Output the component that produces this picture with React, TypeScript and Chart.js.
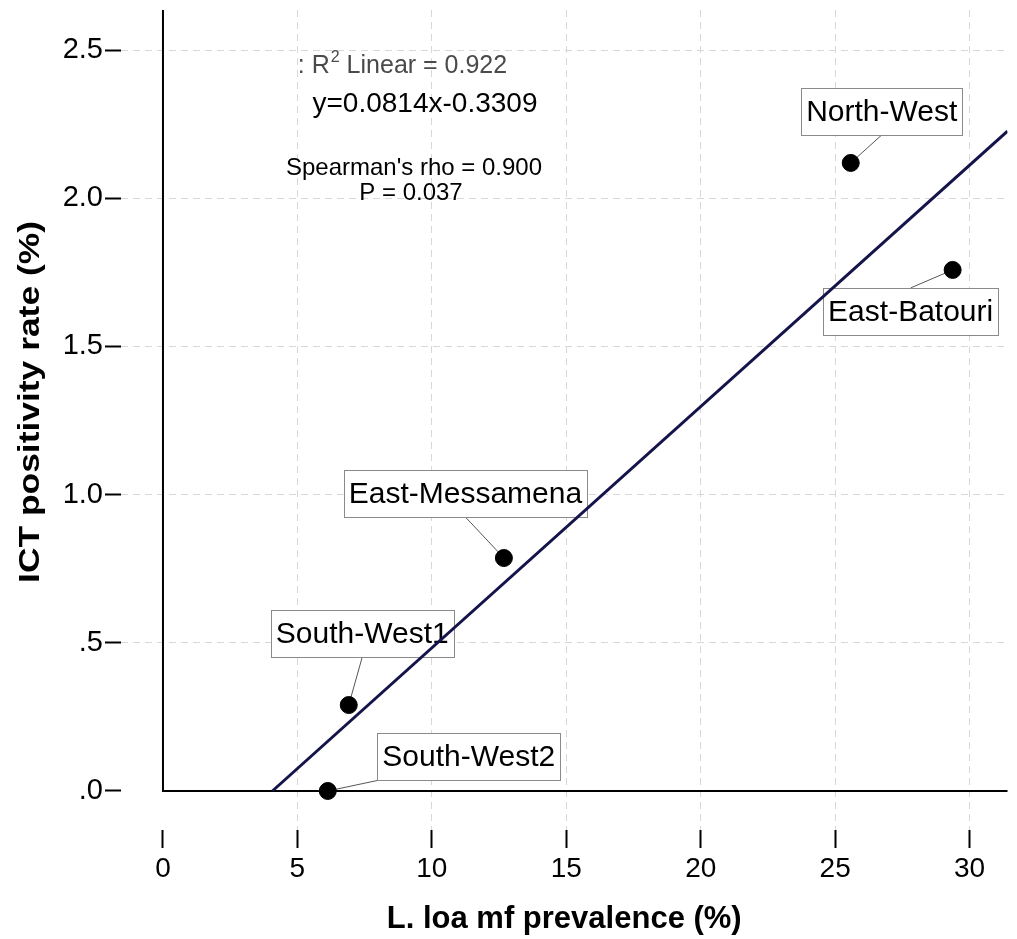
import { useEffect, useRef } from "react";
import { Chart, registerables } from "chart.js";

Chart.register(...registerables);

// ---- data ----
const regions = ["South-West2", "South-West1", "East-Messamena", "North-West", "East-Batouri"];
const mfPrevalence = [6.13, 6.91, 12.68, 25.58, 29.37];
const ictRate = [0.0, 0.29, 0.786, 2.119, 1.758];
const fitLineX = [4.07, 31.41];
const fitLineY = [0.0, 2.226];
const xTicks = [0, 5, 10, 15, 20, 25, 30];
const yTicks = [0, 0.5, 1.0, 1.5, 2.0, 2.5];
const yTickLabels = [".0", ".5", "1.0", "1.5", "2.0", "2.5"];
const xTitle = "L. loa mf prevalence (%)";
const yTitle = "ICT positivity rate (%)";
const equationText = "y=0.0814x-0.3309";
const spearmanText = "Spearman's rho = 0.900";
const pValueText = "P = 0.037";

// ---- layout / style (not data) ----
const FONT = "'Liberation Sans', Arial, sans-serif";
// label box centre offset from point (px) and leader anchor on box (-1..1)
const labelLayout = [
  { dx: 141, dy: -34, ax: -1, ay: 1 },
  { dx: 13.5, dy: -71.5, ax: 0, ay: 1 },
  { dx: -38.5, dy: -64.5, ax: 0, ay: 1 },
  { dx: 31, dy: -51.5, ax: 0, ay: 1 },
  { dx: -42, dy: 41.5, ax: 0, ay: -1 },
];

const annotPlugin = {
  id: "annot",
  beforeDatasetsDraw(chart: any) {
    const { ctx, chartArea } = chart;
    const x = chart.scales.x;
    const y = chart.scales.y;
    ctx.save();
    const x0 = x.getPixelForValue(0);
    const y0 = y.getPixelForValue(0);
    ctx.strokeStyle = "#000";
    ctx.lineWidth = 2;
    ctx.beginPath();
    ctx.moveTo(x0, chartArea.top);
    ctx.lineTo(x0, y0);
    ctx.lineTo(chartArea.right, y0);
    ctx.stroke();

    ctx.font = `30px ${FONT}`;
    regions.forEach((name, i) => {
      const px = x.getPixelForValue(mfPrevalence[i]);
      const py = y.getPixelForValue(ictRate[i]);
      const L = labelLayout[i];
      const cx = px + L.dx;
      const cy = py + L.dy;
      const w = ctx.measureText(name).width + 10;
      const h = 47;
      const ax = cx + (L.ax * w) / 2;
      const ay = cy + (L.ay * h) / 2;
      ctx.strokeStyle = "#555";
      ctx.lineWidth = 1;
      ctx.beginPath();
      ctx.moveTo(ax, ay);
      ctx.lineTo(px, py);
      ctx.stroke();
      ctx.fillStyle = "#fff";
      ctx.fillRect(cx - w / 2, cy - h / 2, w, h);
      ctx.strokeStyle = "#8a8a8a";
      ctx.strokeRect(Math.round(cx - w / 2) + 0.5, Math.round(cy - h / 2) + 0.5, Math.round(w), h);
      ctx.fillStyle = "#000";
      ctx.textAlign = "center";
      ctx.textBaseline = "middle";
      ctx.fillText(name, cx, cy + 1);
    });
    ctx.restore();
  },
  afterDraw(chart: any) {
    const { ctx, chartArea } = chart;
    ctx.save();
    ctx.textBaseline = "middle";
    // R^2 line
    ctx.fillStyle = "#4a4a4a";
    ctx.font = `25px ${FONT}`;
    const p1 = ": R";
    const p3 = " Linear = 0.922";
    const supFont = `16px ${FONT}`;
    const w1 = ctx.measureText(p1).width;
    const w3 = ctx.measureText(p3).width;
    ctx.font = supFont;
    const w2 = ctx.measureText("2").width;
    const total = w1 + w2 + w3;
    let sx = 402 - total / 2;
    ctx.textAlign = "left";
    ctx.font = `25px ${FONT}`;
    ctx.fillText(p1, sx, 66);
    sx += w1;
    ctx.font = supFont;
    ctx.fillText("2", sx + 1, 58);
    sx += w2 + 1;
    ctx.font = `25px ${FONT}`;
    ctx.fillText(p3, sx, 66);

    ctx.fillStyle = "#000";
    ctx.textAlign = "center";
    ctx.font = `28px ${FONT}`;
    ctx.fillText(equationText, 425, 104);
    ctx.font = `24px ${FONT}`;
    ctx.fillText(spearmanText, 414, 168);
    ctx.fillText(pValueText, 411, 193);

    // axis titles
    ctx.font = `bold 31px ${FONT}`;
    ctx.fillText(xTitle, (chartArea.left + chartArea.right) / 2, 919);
    ctx.translate(31, 402);
    ctx.rotate(-Math.PI / 2);
    ctx.scale(1.18, 1);
    ctx.font = `bold 30px ${FONT}`;
    ctx.fillText(yTitle, 0, 0);
    ctx.restore();
  },
};

export default function App() {
  const ref = useRef<HTMLCanvasElement | null>(null);
  useEffect(() => {
    if (!ref.current) return;
    const gridColor = (c: any) => (c.tick && c.tick.value === 0 ? "rgba(0,0,0,0)" : "#d8d8d8");
    const chart = new Chart(ref.current, {
      type: "scatter",
      data: {
        datasets: [
          {
            data: mfPrevalence.map((v, i) => ({ x: v, y: ictRate[i] })),
            pointRadius: 8.5,
            pointHoverRadius: 8.5,
            backgroundColor: "#000",
            borderColor: "#000",
            order: 0,
          },
          {
            data: fitLineX.map((v, i) => ({ x: v, y: fitLineY[i] })),
            showLine: true,
            borderColor: "#14144a",
            borderWidth: 3,
            pointRadius: 0,
            order: 1,
          } as any,
        ],
      },
      options: {
        animation: false,
        responsive: false,
        events: [],
        layout: { padding: { top: 10, right: 9, left: 0, bottom: 0 } },
        plugins: { legend: { display: false }, tooltip: { enabled: false } },
        scales: {
          x: {
            type: "linear",
            min: -1.561,
            max: 31.41,
            afterBuildTicks: (s: any) => {
              s.ticks = xTicks.map((v) => ({ value: v }));
            },
            afterFit: (s: any) => {
              s.height = 109;
              s.paddingLeft = 0;
              s.paddingRight = 0;
            },
            ticks: {
              autoSkip: false,
              maxRotation: 0,
              padding: 4,
              color: "#000",
              font: { size: 28, family: FONT },
              callback: (v: any) => String(v),
            },
            grid: {
              color: gridColor,
              lineWidth: 1,
              tickColor: "#000",
              tickLength: 18,
              tickWidth: 2,
            },
            border: { display: false, dash: [7, 5] },
          },
          y: {
            type: "linear",
            min: -0.1316,
            max: 2.635,
            afterBuildTicks: (s: any) => {
              s.ticks = yTicks.map((v) => ({ value: v }));
            },
            afterFit: (s: any) => {
              s.width = 121;
              s.paddingTop = 0;
              s.paddingBottom = 0;
            },
            ticks: {
              autoSkip: false,
              padding: 2,
              color: "#000",
              font: { size: 29, family: FONT },
              callback: (v: any) => {
                const k = yTicks.indexOf(Number(v));
                return k >= 0 ? yTickLabels[k] : "";
              },
            },
            grid: {
              color: gridColor,
              lineWidth: 1,
              tickColor: "#000",
              tickLength: 16,
              tickWidth: 2,
            },
            border: { display: false, dash: [7, 5] },
          },
        },
      },
      plugins: [annotPlugin],
    });
    return () => chart.destroy();
  }, []);
  return (
    <div style={{ position: "absolute", left: 0, top: 0, width: 1017, height: 939, background: "#fff" }}>
      <canvas ref={ref} width={1017} height={939} style={{ width: 1017, height: 939 }} />
    </div>
  );
}
